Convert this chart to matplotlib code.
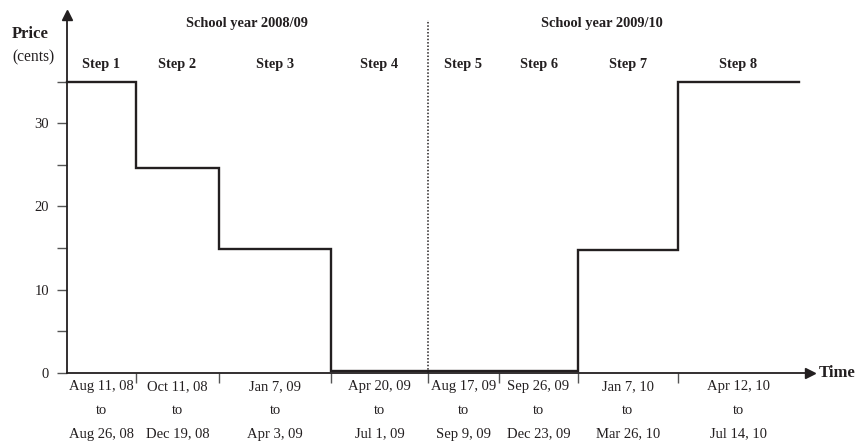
import numpy as np
import matplotlib
matplotlib.use('Agg')
import matplotlib.pyplot as plt

plt.rcParams['font.family'] = ['Liberation Serif', 'DejaVu Serif']

# schematic time axis: edges of the eight price steps (not to scale)
step_edges = [0, 69, 152, 264, 361, 432, 511, 611, 732]
step_prices = [35, 24.6, 14.9, 0.25, 0.25, 0.25, 14.8, 35]
step_names = ['Step 1', 'Step 2', 'Step 3', 'Step 4',
              'Step 5', 'Step 6', 'Step 7', 'Step 8']
start_dates = ['Aug 11, 08', 'Oct 11, 08', 'Jan 7, 09', 'Apr 20, 09',
               'Aug 17, 09', 'Sep 26, 09', 'Jan 7, 10', 'Apr 12, 10']
end_dates = ['Aug 26, 08', 'Dec 19, 08', 'Apr 3, 09', 'Jul 1, 09',
             'Sep 9, 09', 'Dec 23, 09', 'Mar 26, 10', 'Jul 14, 10']
school_years = ['School year 2008/09', 'School year 2009/10']
year_label_x = [180, 535]
year_split = 361

ink = '#231f20'

fig = plt.figure(figsize=(8.56, 4.41), dpi=100)
ax = fig.add_axes([67 / 856, 68 / 441, (810 - 67) / 856, (373 - 15) / 441])
ax.set_xlim(0, 743)
ax.set_ylim(0, 43)

# step line
xs = []
ys = []
for i, p in enumerate(step_prices):
    xs += [step_edges[i], step_edges[i + 1]]
    ys += [p, p]
ax.plot(xs, ys, color=ink, lw=1.7, solid_joinstyle='miter', clip_on=False, zorder=3)

# school year divider
ax.plot([year_split, year_split], [0, 42.4], color=ink, lw=1.1, ls=(0, (1, 1.2)))

# axes with arrows
for s in ['top', 'right']:
    ax.spines[s].set_visible(False)
for s in ['left', 'bottom']:
    ax.spines[s].set_color(ink)
    ax.spines[s].set_linewidth(1.3)
ax.plot(1, 0, '>', color=ink, ms=7, transform=ax.get_yaxis_transform(), clip_on=False)
ax.plot(0, 1, '^', color=ink, ms=7, transform=ax.get_xaxis_transform(), clip_on=False)

ax.set_yticks([0, 10, 20, 30])
ax.set_yticks([5, 15, 25, 35], minor=True)
ax.tick_params(axis='y', which='both', direction='out', length=7, width=1.0,
               color='#555555', labelsize=10.5, pad=6, labelcolor=ink)
ax.set_xticks(step_edges[1:-1])
ax.set_xticklabels([])
ax.tick_params(axis='x', direction='out', length=7, width=1.0, color='#555555')

# labels
for i, name in enumerate(step_names):
    mid = (step_edges[i] + step_edges[i + 1]) / 2
    ax.text(mid, 37.1, name, ha='center', va='center', fontsize=10.4,
            fontweight='bold', color=ink)
    for line, off in zip([start_dates[i], 'to', end_dates[i]], [-10, -27, -44]):
        ax.annotate(line, (mid, 0), xycoords=('data', 'axes fraction'),
                    xytext=(0, off), textcoords='offset points',
                    ha='center', va='center', fontsize=10.5, color=ink,
                    annotation_clip=False)

for label, x in zip(school_years, year_label_x):
    ax.text(x, 42.0, label, ha='center', va='center', fontsize=10.4,
            fontweight='bold', color=ink)

fig.text(30 / 856, 1 - 34 / 441, 'Price', ha='center', va='center',
         fontsize=12, fontweight='bold', color=ink)
fig.text(33 / 856, 1 - 57 / 441, '(cents)', ha='center', va='center',
         fontsize=11.2, color=ink)
fig.text(819 / 856, 1 - 373 / 441, 'Time', ha='left', va='center',
         fontsize=12, fontweight='bold', color=ink)

fig.savefig('out.png', dpi=100)
